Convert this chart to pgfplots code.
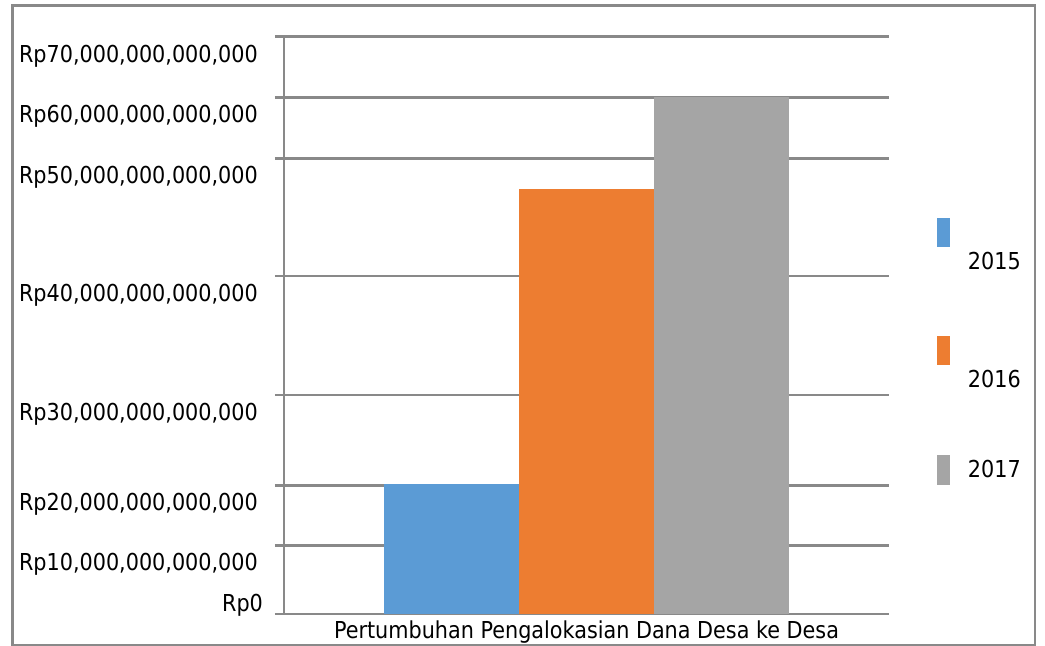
\documentclass[border=0pt]{standalone}
\usepackage{fontspec}
\setmainfont{DejaVu Sans}[FakeStretch=0.89]
\usepackage{pgfplots}
\pgfplotsset{compat=1.18}
\definecolor{cblue}{HTML}{5B9BD5}
\definecolor{corange}{HTML}{ED7D31}
\definecolor{cgray}{HTML}{A5A5A5}
\definecolor{lgray}{RGB}{137,137,137}
\newcommand\lbl{\fontsize{11.66pt}{14pt}\selectfont}
\begin{document}
\begin{tikzpicture}
\useasboundingbox (0,0) rectangle (522.5pt,323pt);
\draw[lgray, line width=1.4pt] (6.25pt,0.35pt) rectangle (517.5pt,320.35pt);
\begin{axis}[
  at={(142pt,16pt)}, anchor=south west,
  scale only axis, width=302.5pt, height=288.65pt,
  xmin=-1, xmax=1, ymin=0, ymax=70,
  y coord trafo/.code={\pgfmathparse{(#1<=10) ? (#1*6.87) : ((#1<=20) ? (68.7+(#1-10)*6.0) : ((#1<=30) ? (128.7+(#1-20)*9.03) : ((#1<=40) ? (219+(#1-30)*11.9) : ((#1<=50) ? (338+(#1-40)*11.77) : ((#1<=60) ? (455.7+(#1-50)*6.1) : (516.7+(#1-60)*6.06))))))}},
  ybar=0pt, bar width=67.35pt,
  axis lines=left,
  axis line style={lgray, line width=1.4pt, -},
  tick align=outside, major tick length=4.5pt,
  ytick style={lgray, line width=1.4pt},
  xtick style={draw=none},
  ymajorgrids, major grid style={lgray, line width=1.4pt},
  ytick={10,20,30,40,50,60,70},
  yticklabels={{Rp10,000,000,000,000},{Rp20,000,000,000,000},{Rp30,000,000,000,000},{Rp40,000,000,000,000},{Rp50,000,000,000,000},{Rp60,000,000,000,000},{Rp70,000,000,000,000}},
  extra y ticks={0}, extra y tick labels={Rp0},
  extra y tick style={grid=major, yticklabel style={yshift=13.85pt, xshift=2.5pt}},
  yticklabel style={font=\lbl, inner sep=0pt, anchor=base east, yshift=-12.75pt, xshift=-8.35pt},
  xtick={0}, xticklabels={Pertumbuhan Pengalokasian Dana Desa ke Desa},
  xticklabel style={font=\lbl, inner sep=0pt, anchor=base, yshift=-8pt},
  legend style={at={(1.0793,0.6865)}, anchor=north west, draw=none, fill=none, inner sep=0pt, outer sep=0pt, row sep=32.1pt, column sep=9pt, nodes={inner sep=0pt, font=\lbl}},
  legend cell align=left,
]
\addplot[fill=cblue, draw=none, legend image code/.code={\fill[cblue] (0pt,7.65pt) rectangle (6.5pt,22.15pt);}] coordinates {(0,20.1)};
\addlegendentry{2015}
\addplot[fill=corange, draw=none, legend image code/.code={\fill[corange] (0pt,7.9pt) rectangle (6.5pt,22.25pt);}] coordinates {(0,47.4)};
\addlegendentry{2016}
\addplot[fill=cgray, draw=none, legend image code/.code={\fill[cgray] (0pt,-7.25pt) rectangle (6.5pt,7.75pt);}] coordinates {(0,60.0)};
\addlegendentry{2017}
\end{axis}
\end{tikzpicture}
\end{document}
